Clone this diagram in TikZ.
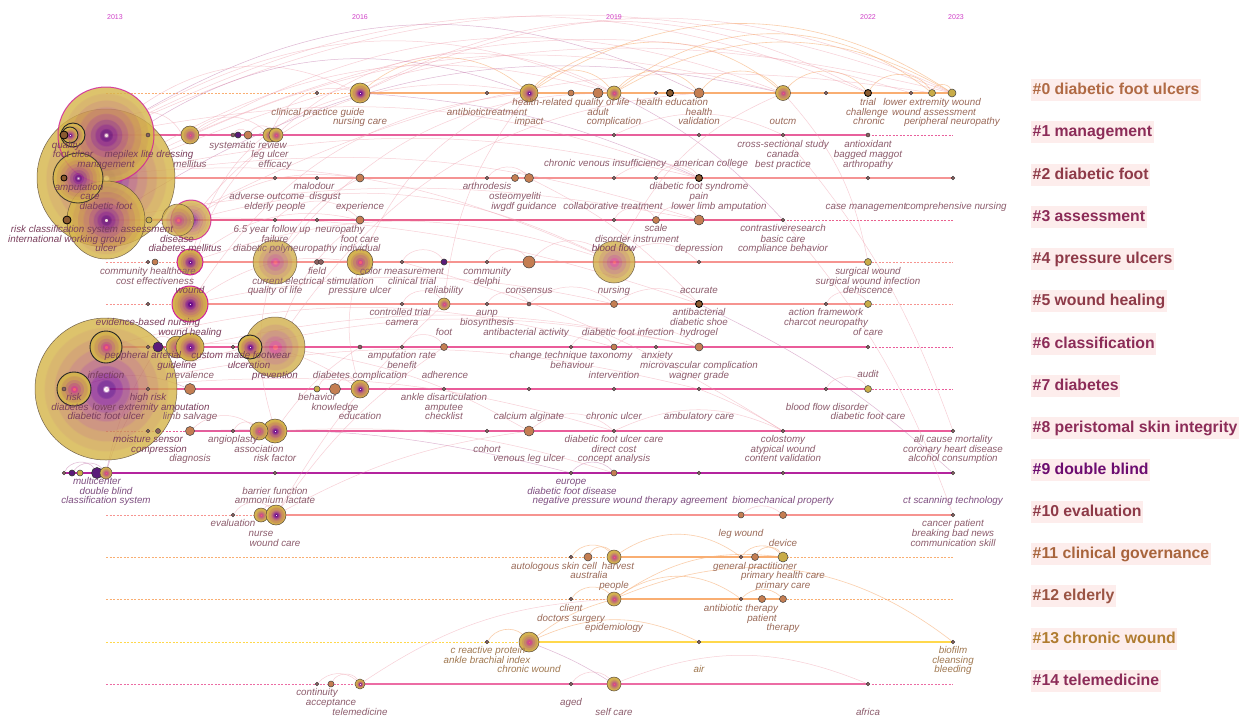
\documentclass[tikz,border=0pt]{standalone}
\usepackage{fontspec}
\setmainfont{Liberation Sans}
\pgfdeclarelayer{back}
\pgfdeclarelayer{bg}
\pgfsetlayers{back,bg,main}
% shading colours
\definecolor{shW}{HTML}{FFF4FA}
\definecolor{shP1}{HTML}{6A0F88}
\definecolor{shP2}{HTML}{8E2A90}
\definecolor{shP3}{HTML}{A24A86}
\definecolor{shM}{HTML}{B86678}
\definecolor{shB}{HTML}{C48068}
\definecolor{shO}{HTML}{CB9458}
\definecolor{shY2}{HTML}{D1A850}
\definecolor{shY}{HTML}{D6B64C}
\definecolor{oC}{HTML}{F46070}
\definecolor{oC2}{HTML}{D04A88}
\definecolor{oM}{HTML}{C06A78}
\definecolor{oB}{HTML}{C4846A}
\definecolor{oY2}{HTML}{CB9C58}
\definecolor{oY}{HTML}{D3B250}
\pgfdeclareradialshading{ringA}{\pgfpoint{0bp}{0bp}}{color(0bp)=(shW); color(0.8bp)=(shW); color(1.2bp)=(shP1); color(3bp)=(shP1); color(3.5bp)=(shP2); color(5.5bp)=(shP2); color(6bp)=(shP3); color(8bp)=(shP3); color(8.5bp)=(shM); color(11bp)=(shM); color(11.5bp)=(shB); color(14.5bp)=(shB); color(15bp)=(shO); color(18bp)=(shO); color(18.5bp)=(shY2); color(21.5bp)=(shY2); color(22bp)=(shY); color(25bp)=(shY); color(50bp)=(shY)}
\pgfdeclareradialshading{ringO}{\pgfpoint{0bp}{0bp}}{color(0bp)=(oC); color(2bp)=(oC); color(2.5bp)=(oC2); color(5bp)=(oC2); color(5.5bp)=(oM); color(9bp)=(oM); color(9.5bp)=(oB); color(14bp)=(oB); color(14.5bp)=(oY2); color(19bp)=(oY2); color(19.5bp)=(oY); color(25bp)=(oY); color(50bp)=(oY)}
% other colours
\definecolor{kwline}{HTML}{5A4A3A}
\definecolor{mag}{HTML}{D0209A}
\definecolor{dotc}{HTML}{8A6060}
\definecolor{smc}{HTML}{C47E52}
\definecolor{smoc}{HTML}{C8AC48}
\definecolor{dkc}{HTML}{8A5A30}
\definecolor{puc}{HTML}{5A1A7A}
\definecolor{edc}{HTML}{F0A0AE}
\definecolor{edoc}{HTML}{F8B47E}
\definecolor{edpc}{HTML}{C070A8}
\definecolor{lbc}{HTML}{8C5C6C}
\definecolor{lbd}{HTML}{7A3E5C}
\definecolor{lb0c}{HTML}{9A6858}
\definecolor{lb9c}{HTML}{7E4E80}
\definecolor{lb11c}{HTML}{9A6A58}
\definecolor{lb13c}{HTML}{A07850}
\definecolor{yrc}{HTML}{D040C8}
\definecolor{clbg}{HTML}{FDEDEC}
\definecolor{rc0}{HTML}{F9AE72}
\definecolor{rc1}{HTML}{E8609C}
\definecolor{rc2}{HTML}{F59494}
\definecolor{rc3}{HTML}{E9628E}
\definecolor{rc4}{HTML}{F69490}
\definecolor{rc6}{HTML}{EA5C9A}
\definecolor{rc9}{HTML}{B4249E}
\definecolor{rc13}{HTML}{FFD84C}
\definecolor{rc14}{HTML}{EC6CA4}
\definecolor{cc0}{HTML}{B06A44}
\definecolor{cc1}{HTML}{8C2C58}
\definecolor{cc2}{HTML}{8E3A48}
\definecolor{cc9}{HTML}{6C0C70}
\definecolor{cc11}{HTML}{A8643C}
\definecolor{cc12}{HTML}{9A5444}
\definecolor{cc13}{HTML}{B07C30}
\tikzset{
 kw/.style={circle, inner sep=0pt, shade, shading=ringA, draw=kwline, line width=0.5pt},
 kwo/.style={circle, inner sep=0pt, shade, shading=ringO, draw=kwline, line width=0.5pt},
 bo/.style={draw=black!85, line width=0.9pt},
 mo/.style={draw=mag, line width=1pt},
 big/.style={opacity=0.82},
 dot/.style={circle, inner sep=0pt, fill=dotc, draw=black!80, line width=0.4pt},
 sm/.style={circle, inner sep=0pt, fill=smc, draw=black!75, line width=0.5pt},
 smo/.style={circle, inner sep=0pt, fill=smoc, draw=black!75, line width=0.5pt},
 dk/.style={circle, inner sep=0pt, fill=dkc, draw=black, line width=0.8pt},
 pu/.style={circle, inner sep=0pt, fill=puc, draw=black!80, line width=0.6pt},
 sl/.style={line width=2pt},
 dl/.style={line width=0.6pt, dash pattern=on 2pt off 1.5pt},
 ed/.style={draw=edc, line width=0.5pt, opacity=0.5},
 edo/.style={draw=edoc, line width=0.6pt, opacity=0.65},
 edp/.style={draw=edpc, line width=0.5pt, opacity=0.5},
 lb/.style={font=\fontsize{9.8}{10}\selectfont\itshape, text=lbc, inner sep=0pt, text height=7pt, text depth=2pt},
 lbb/.style={lb, text=lbd},
 lb0/.style={lb, text=lb0c},
 lb9/.style={lb, text=lb9c},
 lb11/.style={lb, text=lb11c},
 lb13/.style={lb, text=lb13c},
 yr/.style={font=\fontsize{7}{8}\selectfont, text=yrc, inner sep=0pt},
 cl/.style={font=\fontsize{15.8}{18}\selectfont\bfseries, fill=clbg, inner xsep=1.5pt, inner ysep=3pt, text height=12pt, text depth=3.5pt, anchor=base west},
}
\newcounter{lbn}
\newcommand{\mkn}[5]{\node[#5, minimum size={2*#4}] (#1) at (#2,-#3) {};}
\newcommand{\mkl}[4][lb]{\stepcounter{lbn}\node[#1] (t\arabic{lbn}) at (#2,-#3) {#4};}
\newcommand{\mkh}[3]{\mkl[lbb]{#1}{#2}{#3}}
\newcommand{\mke}[4]{\draw[#1] (#2) to[bend left=#4] (#3);}
\begin{document}
\begin{tikzpicture}[x=1pt,y=1pt]
\useasboundingbox (0,0) rectangle (1246,-720);
\begin{pgfonlayer}{back}
\fill[white] (0,0) rectangle (1246,-720);
\end{pgfonlayer}
% ---------- big blobs ----------
\mkn{n2a}{106}{178}{69}{kw,big}
\mkn{n1a}{106}{135}{48}{kw,mo,big}
\mkn{n3a}{106}{220}{39}{kw,big}
\mkn{n2b}{78}{178}{25}{kw,bo,big}
\mkn{n7a}{106}{389}{71}{kw,big}
% ---------- row 0 ----------
\mkn{n0a}{317}{93}{1.8}{dot}
\mkn{n0b}{360}{93}{10}{kw}
\mkn{n0c}{487}{93}{1.8}{dot}
\mkn{n0d}{529}{93}{9}{kw}
\mkn{n0e}{571}{93}{3}{sm}
\mkn{n0f}{598}{93}{5}{sm}
\mkn{n0g}{614}{93}{7}{kwo}
\mkn{n0h}{656}{93}{1.8}{dot}
\mkn{n0i}{670}{93}{3.5}{dk}
\mkn{n0j}{699}{93}{5}{sm}
\mkn{n0k}{783}{93}{7.5}{kwo}
\mkn{n0l}{826}{93}{1.8}{dot}
\mkn{n0m}{868}{93}{3.5}{dk}
\mkn{n0n}{911}{93}{1.8}{dot}
\mkn{n0o}{932}{93}{3.5}{smo}
\mkn{n0p}{952}{93}{4}{smo}
% ---------- row 1 ----------
\mkn{n1d}{73}{135}{12}{kwo,bo}
\mkn{n1c}{70}{135}{8}{kw,bo}
\mkn{n1b}{64}{135}{4}{dk}
\mkn{n1e}{148}{135}{2}{dot}
\mkn{n1f}{190}{135}{9}{kwo}
\mkn{n1g}{233}{135}{2}{dot}
\mkn{n1h}{238}{135}{3}{pu}
\mkn{n1i}{248}{135}{4}{sm}
\mkn{n1j}{270}{135}{7}{kwo}
\mkn{n1k}{276}{135}{7}{kwo}
\mkn{n1l}{614}{135}{1.8}{dot}
\mkn{n1m}{699}{135}{1.8}{dot}
\mkn{n1n}{783}{135}{1.8}{dot}
\mkn{n1o}{868}{135}{2}{dot}
% ---------- row 2 ----------
\mkn{n2c}{64}{178}{3}{dk}
\mkn{n2d}{275}{178}{1.8}{dot}
\mkn{n2e}{317}{178}{1.8}{dot}
\mkn{n2f}{360}{178}{4}{sm}
\mkn{n2g}{487}{178}{1.8}{dot}
\mkn{n2h}{515}{178}{3.5}{sm}
\mkn{n2i}{529}{178}{4.5}{sm}
\mkn{n2j}{614}{178}{1.8}{dot}
\mkn{n2k}{656}{178}{1.8}{dot}
\mkn{n2l}{699}{178}{3.5}{dk}
\mkn{n2m}{868}{178}{1.8}{dot}
\mkn{n2n}{953}{178}{1.8}{dot}
% ---------- row 3 ----------
\mkn{n3b}{67}{220}{4}{dk}
\mkn{n3c}{149}{220}{3}{smo}
\mkn{n3e}{191}{220}{20}{kw,mo,big}
\mkn{n3d}{178}{220}{16}{kwo,big}
\mkn{n3f}{275}{220}{1.8}{dot}
\mkn{n3g}{317}{220}{1.8}{dot}
\mkn{n3h}{360}{220}{4}{sm}
\mkn{n3i}{614}{220}{1.8}{dot}
\mkn{n3j}{656}{220}{3.5}{sm}
\mkn{n3k}{699}{220}{5}{sm}
\mkn{n3l}{783}{220}{1.8}{dot}
% ---------- row 4 ----------
\mkn{n4a}{148}{262}{1.8}{dot}
\mkn{n4b}{155}{262}{3}{sm}
\mkn{n4c}{190}{262}{13}{kw,mo}
\mkn{n4d}{275}{262}{22}{kwo,big}
\mkn{n4e}{317}{262}{2.5}{dot}
\mkn{n4f}{321}{262}{2.5}{dot}
\mkn{n4g}{360}{262}{13}{kwo}
\mkn{n4h}{402}{262}{1.8}{dot}
\mkn{n4i}{444}{262}{3}{pu}
\mkn{n4j}{487}{262}{1.8}{dot}
\mkn{n4k}{529}{262}{6}{sm}
\mkn{n4l}{614}{262}{21}{kwo,big}
\mkn{n4m}{699}{262}{1.8}{dot}
\mkn{n4n}{868}{262}{3.5}{smo}
% ---------- row 5 ----------
\mkn{n5a}{148}{304}{1.8}{dot}
\mkn{n5b}{190}{304}{18}{kw,mo}
\mkn{n5c}{402}{304}{1.8}{dot}
\mkn{n5d}{444}{304}{6}{kwo}
\mkn{n5e}{487}{304}{1.8}{dot}
\mkn{n5f}{529}{304}{2}{dot}
\mkn{n5g}{614}{304}{3.5}{sm}
\mkn{n5h}{699}{304}{3.5}{dk}
\mkn{n5i}{826}{304}{1.8}{dot}
\mkn{n5j}{868}{304}{3.5}{smo}
% ---------- row 6 ----------
\mkn{n6a}{106}{347}{16}{kwo,bo}
\mkn{n6b}{148}{347}{1.8}{dot}
\mkn{n6c}{158}{347}{5}{pu}
\mkn{n6d}{177}{347}{11}{kwo}
\mkn{n6e}{190}{347}{14}{kw}
\mkn{n6f}{233}{347}{1.8}{dot}
\mkn{n6h}{275}{347}{30}{kwo,big}
\mkn{n6g}{250}{347}{12}{kw,bo}
\mkn{n6i}{360}{347}{2}{dot}
\mkn{n6j}{402}{347}{1.8}{dot}
\mkn{n6k}{444}{347}{3.5}{sm}
\mkn{n6l}{571}{347}{1.8}{dot}
\mkn{n6m}{614}{347}{3}{sm}
\mkn{n6n}{656}{347}{1.8}{dot}
\mkn{n6o}{699}{347}{4}{sm}
\mkn{n6p}{868}{347}{1.8}{dot}
% ---------- row 7 ----------
\mkn{n7b}{74}{389}{17}{kwo,bo}
\mkn{n7c}{64}{389}{2}{dot}
\mkn{n7d}{148}{389}{1.8}{dot}
\mkn{n7e}{190}{389}{5.5}{sm}
\mkn{n7f}{317}{389}{3}{smo}
\mkn{n7g}{335}{389}{5.5}{sm}
\mkn{n7h}{360}{389}{9}{kw}
\mkn{n7i}{444}{389}{1.8}{dot}
\mkn{n7j}{529}{389}{1.8}{dot}
\mkn{n7k}{614}{389}{1.8}{dot}
\mkn{n7l}{699}{389}{1.8}{dot}
\mkn{n7m}{826}{389}{1.8}{dot}
\mkn{n7n}{868}{389}{3.5}{smo}
% ---------- row 8 ----------
\mkn{n8a}{148}{431}{1.8}{dot}
\mkn{n8b}{158}{431}{2.5}{dot}
\mkn{n8c}{190}{431}{4.5}{sm}
\mkn{n8d}{233}{431}{1.8}{dot}
\mkn{n8f}{275}{431}{12}{kw}
\mkn{n8e}{259}{431}{9}{kwo}
\mkn{n8g}{487}{431}{1.8}{dot}
\mkn{n8h}{529}{431}{5}{sm}
\mkn{n8i}{614}{431}{1.8}{dot}
\mkn{n8j}{783}{431}{1.8}{dot}
\mkn{n8k}{953}{431}{1.8}{dot}
% ---------- row 9 ----------
\mkn{n9a}{64}{473}{1.8}{dot}
\mkn{n9b}{72}{473}{3}{pu}
\mkn{n9c}{80}{473}{3}{smo}
\mkn{n9d}{97}{473}{5.5}{pu}
\mkn{n9e}{106}{473}{6}{kwo}
\mkn{n9f}{275}{473}{1.8}{dot}
\mkn{n9g}{571}{473}{1.8}{dot}
\mkn{n9h}{614}{473}{3}{sm}
\mkn{n9i}{699}{473}{1.8}{dot}
\mkn{n9j}{783}{473}{1.8}{dot}
\mkn{n9k}{953}{473}{1.8}{dot}
% ---------- row 10 ----------
\mkn{n10a}{233}{515}{1.8}{dot}
\mkn{n10b}{261}{515}{7}{kwo}
\mkn{n10c}{276}{515}{10}{kw}
\mkn{n10d}{741}{515}{3}{sm}
\mkn{n10e}{783}{515}{3.5}{sm}
\mkn{n10f}{953}{515}{1.8}{dot}
% ---------- row 11 ----------
\mkn{n11a}{571}{557}{1.8}{dot}
\mkn{n11b}{588}{557}{4}{sm}
\mkn{n11c}{614}{557}{7}{kwo}
\mkn{n11d}{741}{557}{1.8}{dot}
\mkn{n11e}{755}{557}{3.5}{sm}
\mkn{n11f}{783}{557}{5}{smo}
% ---------- row 12 ----------
\mkn{n12a}{571}{599}{1.8}{dot}
\mkn{n12b}{614}{599}{7}{kwo}
\mkn{n12c}{741}{599}{1.8}{dot}
\mkn{n12d}{762}{599}{3.5}{sm}
\mkn{n12e}{783}{599}{3.5}{sm}
% ---------- row 13 ----------
\mkn{n13a}{487}{642}{1.8}{dot}
\mkn{n13b}{529}{642}{10}{kwo}
\mkn{n13c}{699}{642}{1.8}{dot}
\mkn{n13d}{953}{642}{1.8}{dot}
% ---------- row 14 ----------
\mkn{n14a}{317}{684}{1.8}{dot}
\mkn{n14b}{331}{684}{3}{sm}
\mkn{n14c}{360}{684}{5}{kw}
\mkn{n14d}{571}{684}{1.8}{dot}
\mkn{n14e}{614}{684}{7}{kwo}
\mkn{n14f}{868}{684}{1.8}{dot}
% ---------- timeline coordinates ----------
\coordinate (s0) at (106,-93);  \coordinate (s4) at (106,-262);
\coordinate (s5) at (106,-304); \coordinate (s8) at (106,-431);
\coordinate (s10) at (106,-515); \coordinate (s11) at (106,-557);
\coordinate (s12) at (106,-599); \coordinate (s13) at (106,-642);
\coordinate (s14) at (106,-684);
\coordinate (e1) at (953,-135); \coordinate (e3) at (953,-220);
\coordinate (e4) at (953,-262); \coordinate (e5) at (953,-304);
\coordinate (e6) at (953,-347); \coordinate (e7) at (953,-389);
\coordinate (e11) at (953,-557); \coordinate (e12) at (953,-599);
\coordinate (e14) at (953,-684);
\begin{pgfonlayer}{bg}
% timelines
\draw[dl,rc0] (s0) -- (n0b.center); \draw[sl,rc0] (n0b.center) -- (n0p.center);
\draw[sl,rc1] (n1a.center) -- (n1o.center); \draw[dl,rc1] (n1o.center) -- (e1);
\draw[sl,rc2] (n2a.center) -- (n2n.center);
\draw[sl,rc3] (n3a.center) -- (n3l.center); \draw[dl,rc3] (n3l.center) -- (e3);
\draw[dl,rc4] (s4) -- (n4c.center); \draw[sl,rc4] (n4c.center) -- (n4n.center); \draw[dl,rc4] (n4n.center) -- (e4);
\draw[dl,rc4] (s5) -- (n5b.center); \draw[sl,rc4] (n5b.center) -- (n5j.center); \draw[dl,rc4] (n5j.center) -- (e5);
\draw[sl,rc6] (n6a.center) -- (n6p.center); \draw[dl,rc6] (n6p.center) -- (e6);
\draw[sl,rc6] (n7a.center) -- (n7n.center); \draw[dl,rc6] (n7n.center) -- (e7);
\draw[dl,rc6] (s8) -- (n8c.center); \draw[sl,rc6] (n8c.center) -- (n8k.center);
\draw[sl,rc9] (n9a.center) -- (n9k.center);
\draw[dl,rc4] (s10) -- (n10c.center); \draw[sl,rc4] (n10c.center) -- (n10f.center);
\draw[dl,rc0] (s11) -- (n11c.center); \draw[sl,rc0] (n11c.center) -- (n11f.center); \draw[dl,rc0] (n11f.center) -- (e11);
\draw[dl,rc0] (s12) -- (n12b.center); \draw[sl,rc0] (n12b.center) -- (n12e.center); \draw[dl,rc0] (n12e.center) -- (e12);
\draw[dl,rc13] (s13) -- (n13b.center); \draw[sl,rc13] (n13b.center) -- (n13d.center);
\draw[dl,rc14] (s14) -- (n14c.center); \draw[sl,rc14] (n14c.center) -- (n14f.center); \draw[dl,rc14] (n14f.center) -- (e14);
% long arcs near the top
\mke{ed}{n1a}{n0p}{22}
\mke{ed}{n1a}{n0m}{24}
\mke{ed}{n2a}{n0k}{20}
\mke{edp}{n1a}{n0j}{28}
\mke{ed}{n0b}{n0p}{25}
\mke{ed}{n0b}{n0m}{28}
\mke{edo}{n0d}{n0p}{33}
\mke{edo}{n0d}{n0k}{40}
\mke{edo}{n0g}{n0p}{30}
\mke{edo}{n0g}{n0o}{38}
\mke{ed}{n1f}{n0k}{25}
\mke{ed}{n1k}{n0g}{35}
\mke{ed}{n3e}{n0d}{30}
\mke{ed}{n4d}{n0g}{25}
\mke{ed}{n1j}{n0b}{40}
\mke{edo}{n0b}{n0d}{40}
\mke{edo}{n0d}{n0g}{50}
\mke{edo}{n0g}{n0j}{50}
\mke{edo}{n0j}{n0k}{50}
\mke{edo}{n0m}{n0o}{60}
\mke{edo}{n0o}{n0p}{70}
\mke{edo}{n0k}{n0m}{50}
\mke{ed}{n1a}{n0b}{30}
\mke{ed}{n2a}{n0g}{22}
\mke{ed}{n1a}{n0g}{26}
\mke{ed}{n2a}{n0p}{18}
\mke{edp}{n3a}{n0k}{22}
\mke{ed}{n6h}{n0j}{25}
\mke{ed}{n4c}{n0b}{30}
\mke{ed}{n5b}{n0d}{25}
\mke{ed}{n6e}{n1k}{25}
\mke{ed}{n1f}{n0n}{20}
\mke{ed}{n3d}{n0o}{18}
\mke{edp}{n2b}{n0d}{30}
% descending links
\mke{edp}{n0g}{n3l}{10}
\mke{ed}{n0k}{n4n}{15}
\mke{ed}{n1n}{n8k}{10}
\mke{ed}{n3l}{n10f}{10}
\mke{edp}{n5h}{n9k}{8}
\mke{edp}{n0b}{n2l}{10}
\mke{ed}{n4h}{n8j}{8}
\mke{ed}{n2i}{n5h}{10}
% rows 11 - 14
\mke{edo}{n12b}{n13d}{30}
\mke{edo}{n13b}{n12b}{10}
\mke{edo}{n12b}{n11f}{20}
\mke{edo}{n11a}{n11c}{50}
\mke{edo}{n11b}{n11c}{60}
\mke{edo}{n11c}{n11d}{35}
\mke{edo}{n11d}{n11f}{50}
\mke{edo}{n11e}{n11f}{60}
\mke{edo}{n12a}{n12b}{50}
\mke{edo}{n12b}{n12c}{35}
\mke{edo}{n12c}{n12e}{45}
\mke{edo}{n13a}{n13b}{50}
\mke{edo}{n13b}{n13c}{25}
\mke{ed}{n14d}{n14e}{50}
\mke{ed}{n14a}{n14c}{45}
\mke{ed}{n14b}{n14c}{60}
\mke{ed}{n14c}{n12b}{15}
\mke{ed}{n14e}{n14f}{22}
\mke{edp}{n13b}{n14e}{5}
% rows 9 - 10
\mke{edp}{n9a}{n9d}{60}
\mke{edp}{n9b}{n9e}{50}
\mke{edp}{n9e}{n7d}{10}
\mke{edp}{n9g}{n9h}{50}
\mke{edp}{n8c}{n9g}{8}
\mke{edp}{n9e}{n6c}{10}
\mke{ed}{n10a}{n10c}{50}
\mke{ed}{n10b}{n10c}{60}
\mke{ed}{n10c}{n6k}{10}
\mke{ed}{n10c}{n5d}{8}
\mke{ed}{n10d}{n10e}{40}
\mke{ed}{n10c}{n8h}{10}
% row 8
\mke{ed}{n8d}{n8e}{50}
\mke{ed}{n8c}{n8e}{40}
\mke{ed}{n8f}{n6i}{10}
\mke{ed}{n8h}{n8i}{40}
\mke{ed}{n8i}{n8j}{25}
\mke{ed}{n8f}{n4d}{15}
\mke{ed}{n7l}{n8j}{5}
\mke{ed}{n8f}{n9h}{10}
\mke{ed}{n7a}{n8i}{10}
% row 7
\mke{ed}{n7f}{n7h}{60}
\mke{ed}{n7g}{n7h}{60}
\mke{ed}{n7m}{n7n}{60}
\mke{ed}{n7h}{n4g}{15}
\mke{ed}{n7a}{n7l}{12}
\mke{ed}{n7a}{n6o}{14}
\mke{edp}{n7b}{n7e}{20}
\mke{ed}{n6d}{n7h}{20}
% row 6
\mke{ed}{n6b}{n6d}{50}
\mke{ed}{n6g}{n6h}{40}
\mke{ed}{n6j}{n6k}{60}
\mke{ed}{n6l}{n6m}{60}
\mke{ed}{n6m}{n6o}{40}
\mke{ed}{n6a}{n6m}{15}
\mke{ed}{n6h}{n3h}{15}
\mke{ed}{n6e}{n6o}{12}
\mke{ed}{n6h}{n8h}{10}
% row 5
\mke{ed}{n5c}{n5d}{60}
\mke{ed}{n5e}{n5f}{60}
\mke{ed}{n5f}{n5g}{40}
\mke{ed}{n5g}{n5h}{35}
\mke{ed}{n5i}{n5j}{60}
\mke{ed}{n5d}{n0d}{15}
\mke{ed}{n5b}{n5g}{12}
\mke{ed}{n5b}{n4g}{20}
% row 4
\mke{ed}{n4h}{n4i}{60}
\mke{ed}{n4j}{n4k}{60}
\mke{ed}{n4k}{n4l}{40}
\mke{ed}{n4l}{n4m}{35}
\mke{ed}{n4l}{n0k}{20}
\mke{ed}{n4d}{n2f}{15}
\mke{ed}{n4g}{n0d}{20}
\mke{ed}{n4c}{n4l}{18}
\mke{ed}{n4c}{n3h}{25}
% row 3
\mke{ed}{n3f}{n3h}{45}
\mke{ed}{n3i}{n3j}{60}
\mke{ed}{n3j}{n3k}{60}
\mke{ed}{n3e}{n2f}{20}
\mke{ed}{n3a}{n3k}{10}
\mke{ed}{n3a}{n5h}{10}
\mke{ed}{n3e}{n4l}{20}
\mke{ed}{n3a}{n4c}{30}
% row 2
\mke{ed}{n2g}{n2i}{50}
\mke{ed}{n2h}{n2i}{60}
\mke{ed}{n2j}{n2l}{35}
\mke{ed}{n2k}{n2l}{60}
\mke{ed}{n2a}{n2l}{12}
\mke{ed}{n2a}{n3k}{12}
\mke{ed}{n2b}{n4l}{15}
% row 1
\mke{ed}{n1g}{n1i}{60}
\mke{ed}{n1i}{n1k}{50}
\mke{ed}{n1f}{n1j}{40}
\mke{ed}{n1l}{n1n}{25}
\mke{ed}{n1a}{n2l}{15}
\mke{ed}{n2a}{n1f}{40}
\end{pgfonlayer}
% ---------- years ----------
\node[yr] (y13) at (115,-17) {2013};
\node[yr] (y16) at (360,-17) {2016};
\node[yr] (y19) at (614,-17) {2019};
\node[yr] (y22) at (868,-17) {2022};
\node[yr] (y23) at (956,-17) {2023};
% ---------- keyword labels ----------
\mkl[lb0]{318}{112.7}{clinical practice guide}
\mkl[lb0]{360}{122}{nursing care}
\mkl[lb0]{487}{112.7}{antibiotictreatment}
\mkl[lb0]{529}{122}{impact}
\mkl[lb0]{571}{103}{health-related quality of life}
\mkl[lb0]{598}{112.7}{adult}
\mkl[lb0]{614}{122}{complication}
\mkl[lb0]{672}{103}{health education}
\mkl[lb0]{699}{112.7}{health}
\mkl[lb0]{699}{122}{validation}
\mkl[lb0]{783}{122}{outcm}
\mkl[lb0]{868}{103}{trial}
\mkl[lb0]{867}{112.7}{challenge}
\mkl[lb0]{869}{122}{chronic}
\mkl[lb0]{932}{103}{lower extremity wound}
\mkl[lb0]{934}{112.7}{wound assessment}
\mkl[lb0]{952}{122}{peripheral neuropathy}
% row 1
\mkh{66}{146}{quality}
\mkh{73}{155}{foot ulcer}
\mkh{149}{155}{mepilex lite dressing}
\mkh{106}{165}{management}
\mkl{190}{165}{mellitus}
\mkl{248}{146}{systematic review}
\mkl{270}{155}{leg ulcer}
\mkl{275}{165}{efficacy}
\mkl{783}{145}{cross-sectional study}
\mkl{783}{155}{canada}
\mkl{783}{165}{best practice}
\mkl{868}{145}{antioxidant}
\mkl{868}{155}{bagged maggot}
\mkl{868}{165}{arthropathy}
\mkl{605}{164}{chronic venous insufficiency}
\mkl{711}{164}{american college}
% row 2
\mkh{79}{188}{amputation}
\mkh{90}{197}{care}
\mkh{106}{207}{diabetic foot}
\mkl{314}{187}{malodour}
\mkl{267}{197}{adverse outcome}
\mkl{325}{197}{disgust}
\mkl{275}{207}{elderly people}
\mkl{360}{207}{experience}
\mkl{487}{187}{arthrodesis}
\mkl{515}{197}{osteomyeliti}
\mkl{524}{207}{iwgdf guidance}
\mkl{613}{207}{collaborative treatment}
\mkl{719}{207}{lower limb amputation}
\mkl{699}{187}{diabetic foot syndrome}
\mkl{699}{197}{pain}
\mkl{866}{207}{case management}
\mkl{956}{207}{comprehensive nursing}
% row 3
\mkh{92}{230}{risk classification system assessment}
\mkh{67}{240}{international working group}
\mkh{106}{249}{ulcer}
\mkh{177}{240}{disease}
\mkh{185}{249}{diabetes mellitus}
\mkl{285}{249}{diabetic polyneuropathy}
\mkl{272}{230}{6.5 year follow up}
\mkl{340}{230}{neuropathy}
\mkl{275}{240}{failure}
\mkl{360}{240}{foot care}
\mkl{360}{249}{individual}
\mkl{783}{229}{contrastiveresearch}
\mkl{783}{240}{basic care}
\mkl{783}{249}{compliance behavior}
\mkl{656}{229}{scale}
\mkl{637}{240}{disorder instrument}
\mkh{614}{249}{blood flow}
\mkl{699}{249}{depression}
% row 4
\mkl{148}{272}{community healthcare}
\mkl{155}{282}{cost effectiveness}
\mkh{190}{291}{wound}
\mkl{313}{282}{current electrical stimulation}
\mkl{412}{282}{clinical trial}
\mkl{275}{291}{quality of life}
\mkl{317}{272}{field}
\mkl{402}{272}{color measurement}
\mkl{360}{291}{pressure ulcer}
\mkl{487}{272}{community}
\mkl{487}{282}{delphi}
\mkl{444}{291}{reliability}
\mkl{529}{291}{consensus}
\mkl{614}{291}{nursing}
\mkl{699}{291}{accurate}
\mkl{868}{272}{surgical wound}
\mkl{868}{282}{surgical wound infection}
\mkl{868}{291}{dehiscence}
% row 5
\mkl{400}{313}{controlled trial}
\mkl{402}{323}{camera}
\mkl{487}{313}{aunp}
\mkl{487}{323}{biosynthesis}
\mkl{444}{333}{foot}
\mkl{526}{333}{antibacterial activity}
\mkl{628}{333}{diabetic foot infection}
\mkl{699}{313}{antibacterial}
\mkl{699}{323}{diabetic shoe}
\mkl{699}{333}{hydrogel}
\mkl{826}{313}{action framework}
\mkl{826}{323}{charcot neuropathy}
\mkl{868}{333}{of care}
\mkh{148}{323}{evidence-based nursing}
\mkh{190}{333}{wound healing}
% row 6
\mkh{143}{356}{peripheral arterial}
\mkh{241}{356}{custom made footwear}
\mkh{177}{366}{guideline}
\mkh{249}{366}{ulceration}
\mkl{190}{376}{prevalence}
\mkh{275}{376}{prevention}
\mkl{402}{356}{amputation rate}
\mkl{402}{366}{benefit}
\mkl{360}{376}{diabetes complication}
\mkl{571}{356}{change technique taxonomy}
\mkl{572}{366}{behaviour}
\mkl{614}{376}{intervention}
\mkl{657}{356}{anxiety}
\mkl{699}{366}{microvascular complication}
\mkl{699}{376}{wagner grade}
\mkl{445}{376}{adherence}
\mkh{106}{376}{infection}
\mkl{868}{375}{audit}
% row 7
\mkh{74}{398}{risk}
\mkh{148}{398}{high risk}
\mkh{70}{408}{diabetes}
\mkh{151}{408}{lower extremity amputation}
\mkh{106}{417}{diabetic foot ulcer}
\mkl{190}{417}{limb salvage}
\mkl{317}{398}{behavior}
\mkl{335}{408}{knowledge}
\mkl{360}{417}{education}
\mkl{444}{398}{ankle disarticulation}
\mkl{444}{408}{amputee}
\mkl{444}{417}{checklist}
\mkl{529}{417}{calcium alginate}
\mkl{614}{417}{chronic ulcer}
\mkl{699}{417}{ambulatory care}
\mkl{827}{408}{blood flow disorder}
\mkl{868}{417}{diabetic foot care}
% row 8
\mkh{148}{440}{moisture sensor}
\mkh{159}{450}{compression}
\mkl{190}{459}{diagnosis}
\mkl{233}{440}{angioplasty}
\mkl{259}{450}{association}
\mkl{275}{459}{risk factor}
\mkl{487}{450}{cohort}
\mkl{529}{459}{venous leg ulcer}
\mkl{614}{440}{diabetic foot ulcer care}
\mkl{614}{450}{direct cost}
\mkl{614}{459}{concept analysis}
\mkl{783}{440}{colostomy}
\mkl{783}{450}{atypical wound}
\mkl{783}{459}{content validation}
\mkl{953}{440}{all cause mortality}
\mkl{953}{450}{coronary heart disease}
\mkl{953}{459}{alcohol consumption}
% row 9
\mkl[lb9]{97}{482}{multicenter}
\mkl[lb9]{106}{492}{double blind}
\mkl[lb9]{106}{501}{classification system}
\mkl[lb9]{571}{482}{europe}
\mkl[lb9]{572}{492}{diabetic foot disease}
\mkl[lb9]{605}{501}{negative pressure wound therapy}
\mkl[lb9]{704}{501}{agreement}
\mkl[lb9]{783}{501}{biomechanical property}
\mkl[lb9]{953}{501}{ct scanning technology}
% row 10
\mkl{275}{492}{barrier function}
\mkl{275}{501}{ammonium lactate}
\mkl{233}{524}{evaluation}
\mkl{261}{534}{nurse}
\mkl{275}{544}{wound care}
\mkl{953}{524}{cancer patient}
\mkl{953}{534}{breaking bad news}
\mkl{953}{544}{communication skill}
% row 11
\mkl[lb11]{741}{534}{leg wound}
\mkl[lb11]{783}{544}{device}
\mkl[lb11]{554}{567}{autologous skin cell}
\mkl[lb11]{618}{567}{harvest}
\mkl[lb11]{589}{576}{australia}
\mkl[lb11]{614}{586}{people}
\mkl[lb11]{755}{567}{general practitioner}
\mkl[lb11]{783}{576}{primary health care}
\mkl[lb11]{783}{586}{primary care}
% row 12
\mkl[lb11]{571}{609}{client}
\mkl[lb11]{571}{619}{doctors surgery}
\mkl[lb11]{614}{628}{epidemiology}
\mkl[lb11]{741}{609}{antibiotic therapy}
\mkl[lb11]{762}{619}{patient}
\mkl[lb11]{783}{628}{therapy}
% row 13
\mkl[lb13]{488}{651}{c reactive protein}
\mkl[lb13]{487}{661}{ankle brachial index}
\mkl[lb13]{529}{670}{chronic wound}
\mkl[lb13]{699}{670}{air}
\mkl[lb13]{953}{651}{biofilm}
\mkl[lb13]{953}{661}{cleansing}
\mkl[lb13]{953}{670}{bleeding}
% row 14
\mkl{317}{693}{continuity}
\mkl{331}{703}{acceptance}
\mkl{360}{713}{telemedicine}
\mkl{571}{703}{aged}
\mkl{614}{713}{self care}
\mkl{868}{713}{africa}
% ---------- cluster labels ----------
\node[cl,text=cc0] (c0) at (1031,-94) {\#0 diabetic foot ulcers};
\node[cl,text=cc1] (c1) at (1031,-136) {\#1 management};
\node[cl,text=cc2] (c2) at (1031,-179) {\#2 diabetic foot};
\node[cl,text=cc1] (c3) at (1031,-221) {\#3 assessment};
\node[cl,text=cc2] (c4) at (1031,-263) {\#4 pressure ulcers};
\node[cl,text=cc2] (c5) at (1031,-305) {\#5 wound healing};
\node[cl,text=cc1] (c6) at (1031,-348) {\#6 classification};
\node[cl,text=cc1] (c7) at (1031,-390) {\#7 diabetes};
\node[cl,text=cc1] (c8) at (1031,-432) {\#8 peristomal skin integrity};
\node[cl,text=cc9] (c9) at (1031,-474) {\#9 double blind};
\node[cl,text=cc2] (c10) at (1031,-516) {\#10 evaluation};
\node[cl,text=cc11] (c11) at (1031,-558) {\#11 clinical governance};
\node[cl,text=cc12] (c12) at (1031,-600) {\#12 elderly};
\node[cl,text=cc13] (c13) at (1031,-643) {\#13 chronic wound};
\node[cl,text=cc1] (c14) at (1031,-685) {\#14 telemedicine};
\end{tikzpicture}
\end{document}
